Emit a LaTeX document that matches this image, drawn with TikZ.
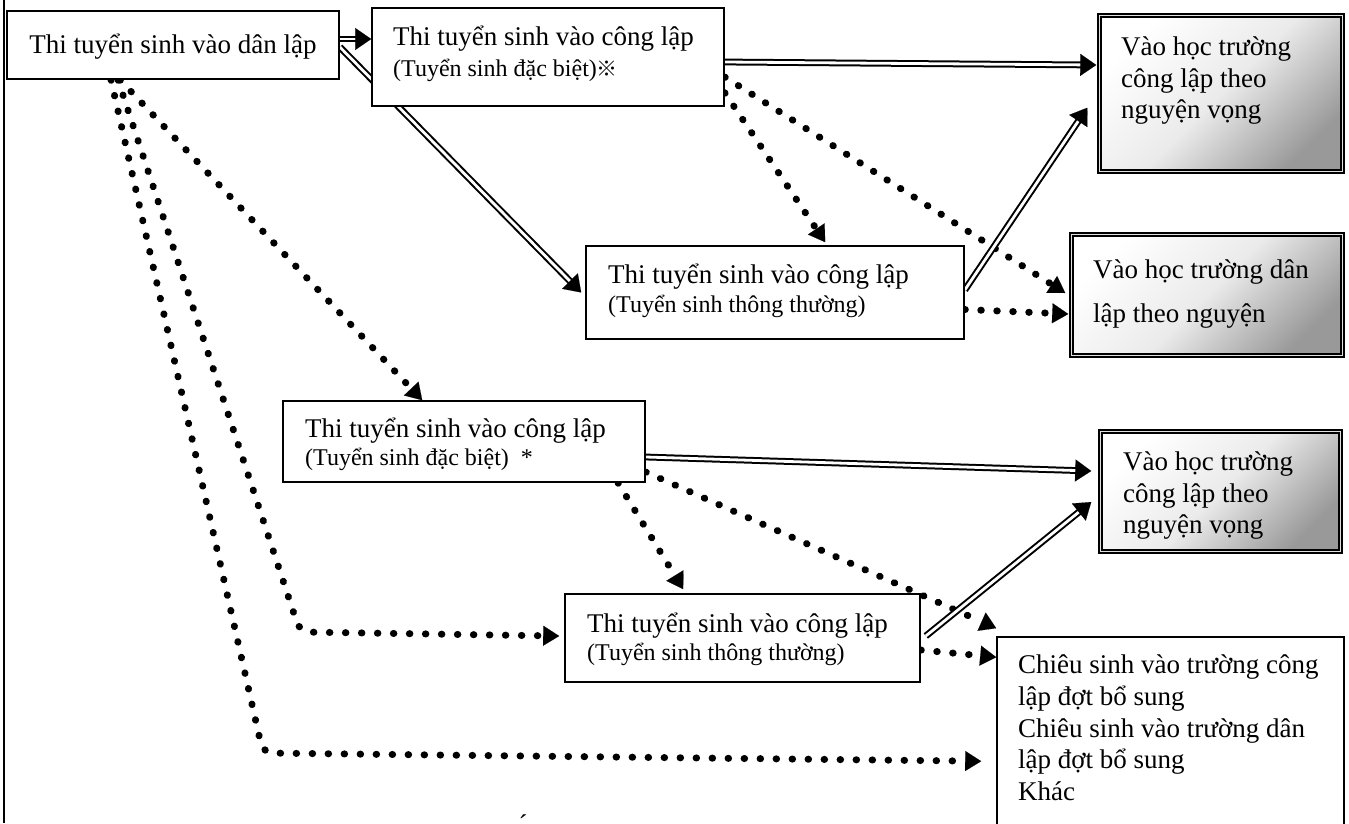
\documentclass[tikz,border=0pt]{standalone}
\usepackage{fontspec}
\setmainfont{Liberation Serif}
\newfontfamily\cjkfont{Noto Sans CJK JP}
\usetikzlibrary{arrows.meta,calc}
\pgfdeclarelayer{bg}
\pgfsetlayers{bg,main}
\tikzset{
  box/.style={draw=black, line width=1.6pt, fill=white, rectangle, inner sep=0pt},
  gbox/.style={draw=black, line width=1.5pt, double=black!12, double distance=1.8pt, rectangle, inner sep=0pt,
     top color=white, bottom color=black!40, middle color=black!8, shading angle=45},
  txt/.style={inner sep=0pt, anchor=base west, font=\fontsize{27}{32}\selectfont},
  stxt/.style={inner sep=0pt, anchor=base west, font=\fontsize{24}{28}\selectfont},
  dots/.style={line width=7pt, line cap=round, dash pattern=on 0.5pt off 15.5pt,
     -{Triangle[length=16pt,width=20pt,line width=0.1pt]}},
  dbl/.style={draw=black, line width=2pt, double=white, double distance=2.8pt, shorten >=13pt},
  dbltip/.style={draw=white, line width=0.3pt, -{Triangle[length=16pt,width=22pt,color=black,fill=black,line width=0.1pt]}},
}
\newcommand{\DblArr}[2]{\draw[dbl] #1 -- #2; \draw[dbltip] #1 -- #2;}
\begin{document}
\begin{tikzpicture}[x=1pt,y=-1pt]
\useasboundingbox (0,0) rectangle (1349,823);
% boxes
\node[box, minimum width=332pt, minimum height=68pt] (A) at (173,45) {};
\node[box, minimum width=352pt, minimum height=98pt] (B) at (548,57) {};
\node[box, minimum width=378pt, minimum height=93pt] (C) at (775,292.5) {};
\node[gbox, minimum width=243pt, minimum height=156pt] (D) at (1221,93.5) {};
\node[gbox, minimum width=271pt, minimum height=121pt] (E) at (1207,295) {};
\node[box, minimum width=362pt, minimum height=81pt] (F) at (464,441.5) {};
\node[gbox, minimum width=240pt, minimum height=120pt] (G) at (1220.5,491.5) {};
\node[box, minimum width=355pt, minimum height=88pt] (H) at (742.5,638) {};
\node[box, minimum width=347pt, minimum height=213pt] (I) at (1170.5,743.5) {};
% texts
\node[txt, anchor=base] (tA) at (173,53) {Thi tuyển sinh vào dân lập};
\node[txt] (tB1) at (393,45) {Thi tuyển sinh vào công lập};
\node[stxt] (tB2) at (393,76) {(Tuyển sinh đặc biệt){\cjkfont\fontsize{21}{21}\selectfont ※}};
\node[txt] (tC1) at (608,283) {Thi tuyển sinh vào công lập};
\node[stxt] (tC2) at (608,312) {(Tuyển sinh thông thường)};
\node[txt] (tD1) at (1121,55) {Vào học trường};
\node[txt] (tD2) at (1121,87) {công lập theo};
\node[txt] (tD3) at (1121,118) {nguyện vọng};
\node[txt] (tE1) at (1093,278) {Vào học trường dân};
\node[txt] (tE2) at (1093,322) {lập theo nguyện};
\node[txt] (tF1) at (305,437) {Thi tuyển sinh vào công lập};
\node[stxt] (tF2) at (305,465) {(Tuyển sinh đặc biệt)~~*};
\node[txt] (tG1) at (1123,470) {Vào học trường};
\node[txt] (tG2) at (1123,502) {công lập theo};
\node[txt] (tG3) at (1123,533) {nguyện vọng};
\node[txt] (tH1) at (587,632) {Thi tuyển sinh vào công lập};
\node[stxt] (tH2) at (587,660) {(Tuyển sinh thông thường)};
\node[txt] (tI1) at (1018,673) {Chiêu sinh vào trường công};
\node[txt] (tI2) at (1018,705) {lập đợt bổ sung};
\node[txt] (tI3) at (1018,737) {Chiêu sinh vào trường dân};
\node[txt] (tI4) at (1018,768) {lập đợt bổ sung};
\node[txt] (tI5) at (1018,800) {Khác};
\node[txt, anchor=base] (acc) at (523,833) {´};
% frame line
\draw[line width=1.5pt] (4,0) -- (4,823);
% corners
\coordinate (k1) at (300,632);
\coordinate (k2) at (263,753);
\begin{pgfonlayer}{bg}
% dotted connectors
\draw[dots] ([yshift=14pt]B.south east) -- ([xshift=240pt,yshift=3pt]C.north west);
\draw[dots] ([yshift=-20pt]B.east) -- ([xshift=-5.5pt,yshift=2pt]E.west);
\draw[dots] ([yshift=-17pt]C.east) -- ([xshift=-2.5pt,yshift=-19pt]E.west);
\draw[dots] ([xshift=-53pt]A.south) -- ([xshift=140pt]F.north west);
\draw[dots, rounded corners=10pt] ([xshift=-55pt]A.south) -- (k1) -- ([xshift=-5pt,yshift=2pt]H.west);
\draw[dots, rounded corners=10pt] ([xshift=-62pt]A.south) -- (k2) -- ([xshift=-15pt,yshift=-125pt]I.north west);
\draw[dots] ([xshift=154pt]F.south) -- ([xshift=119pt,yshift=4pt]H.north west);
\draw[dots] ([yshift=-30.5pt]F.east) -- ([yshift=8pt]I.north west);
\draw[dots] ([yshift=-12pt]H.east) -- ([yshift=-21pt]I.north west);
% double connectors
\DblArr{([yshift=6pt]A.east)}{([yshift=18pt]B.west)}
\DblArr{([yshift=-2pt]A.east)}{([xshift=-4pt]C.west)}
\DblArr{([yshift=-5pt]B.east)}{([xshift=-2.5pt,yshift=28.5pt]D.west)}
\DblArr{([yshift=2.5pt]C.east)}{([xshift=-11.5pt,yshift=64.5pt]D.south west)}
\DblArr{([yshift=-15.5pt]F.east)}{([xshift=-8.5pt,yshift=20.5pt]G.west)}
\DblArr{([xshift=5pt,yshift=2pt]H.east)}{([xshift=-8.5pt,yshift=-10.5pt]G.west)}
\end{pgfonlayer}
\end{tikzpicture}
\end{document}
